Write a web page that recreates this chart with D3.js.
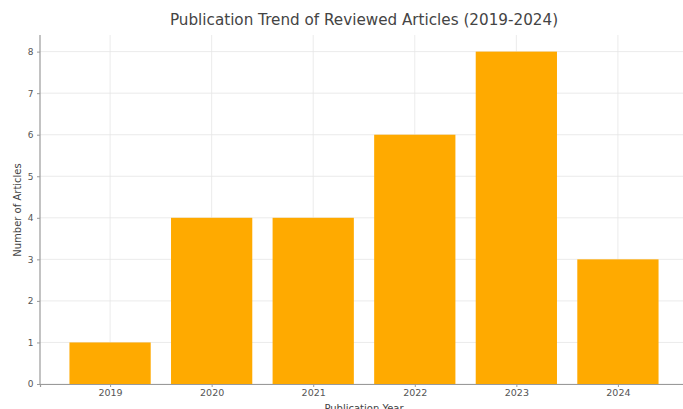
<!DOCTYPE html>
<html>
<head>
<meta charset="utf-8">
<script src="https://cdn.jsdelivr.net/npm/d3@7"></script>
<style>
  body { margin: 0; background: #fff; }
  svg { display: block; font-family: "DejaVu Sans", sans-serif; }
</style>
</head>
<body>
<svg width="683" height="409"></svg>
<script>
var years = ["2019", "2020", "2021", "2022", "2023", "2024"];
var counts = [1, 4, 4, 6, 8, 3];
var yTicks = [0, 1, 2, 3, 4, 5, 6, 7, 8];

var svg = d3.select("svg"),
  plotLeft = 40, plotRight = 688, plotTop = 35, plotBottom = 384;

// index positions with matplotlib style margins
var x = d3.scaleLinear().domain([-0.69, 5.69]).range([plotLeft, plotRight]);
var y = d3.scaleLinear().domain([0, 8.4]).range([plotBottom, plotTop]);
var barW = x(0.4) - x(-0.4);

// grid
svg.append("g").selectAll("line")
  .data(yTicks).enter().append("line")
  .attr("x1", plotLeft).attr("x2", plotRight)
  .attr("y1", function(d) { return y(d); }).attr("y2", function(d) { return y(d); })
  .attr("stroke", "#e6e6e6").attr("stroke-width", 0.8);

svg.append("g").selectAll("line")
  .data(years).enter().append("line")
  .attr("x1", function(d, i) { return x(i); }).attr("x2", function(d, i) { return x(i); })
  .attr("y1", plotTop).attr("y2", plotBottom)
  .attr("stroke", "#e6e6e6").attr("stroke-width", 0.8);

// bars
svg.append("g").selectAll("rect")
  .data(counts).enter().append("rect")
  .attr("x", function(d, i) { return x(i) - barW / 2; })
  .attr("y", function(d) { return y(d); })
  .attr("width", barW)
  .attr("height", function(d) { return y(0) - y(d); })
  .attr("fill", "#ffaa00");

// axes
var yAxis = svg.append("g")
  .attr("transform", "translate(" + plotLeft + ",0)")
  .call(d3.axisLeft(y).tickValues(yTicks).tickSize(3).tickPadding(3.5));

var xAxis = svg.append("g")
  .attr("transform", "translate(0," + plotBottom + ")")
  .call(d3.axisBottom(x).tickValues(d3.range(years.length))
    .tickFormat(function(i) { return years[i]; }).tickSize(3).tickPadding(2.5));

[yAxis, xAxis].forEach(function(a) {
  a.select(".domain").attr("stroke", "#9a9a9a").attr("stroke-width", 1.2);
  a.selectAll(".tick line").attr("stroke", "#9a9a9a");
  a.selectAll(".tick text").attr("fill", "#555").style("font-size", "9.5px")
    .style("font-family", "DejaVu Sans, sans-serif");
});
yAxis.select(".domain").attr("d", "M0," + plotTop + "V" + plotBottom);
yAxis.selectAll(".tick text").style("font-size", "9px");

// labels
svg.append("text")
  .attr("x", (plotLeft + plotRight) / 2).attr("y", 25)
  .attr("text-anchor", "middle")
  .attr("fill", "#444")
  .style("font-size", "15.2px")
  .text("Publication Trend of Reviewed Articles (2019-2024)");

svg.append("text")
  .attr("x", (plotLeft + plotRight) / 2).attr("y", 412)
  .attr("text-anchor", "middle")
  .attr("fill", "#444")
  .style("font-size", "10px")
  .text("Publication Year");

svg.append("text")
  .attr("transform", "translate(21," + 210 + ") rotate(-90)")
  .attr("text-anchor", "middle")
  .attr("fill", "#444")
  .style("font-size", "10px")
  .text("Number of Articles");
</script>
</body>
</html>
